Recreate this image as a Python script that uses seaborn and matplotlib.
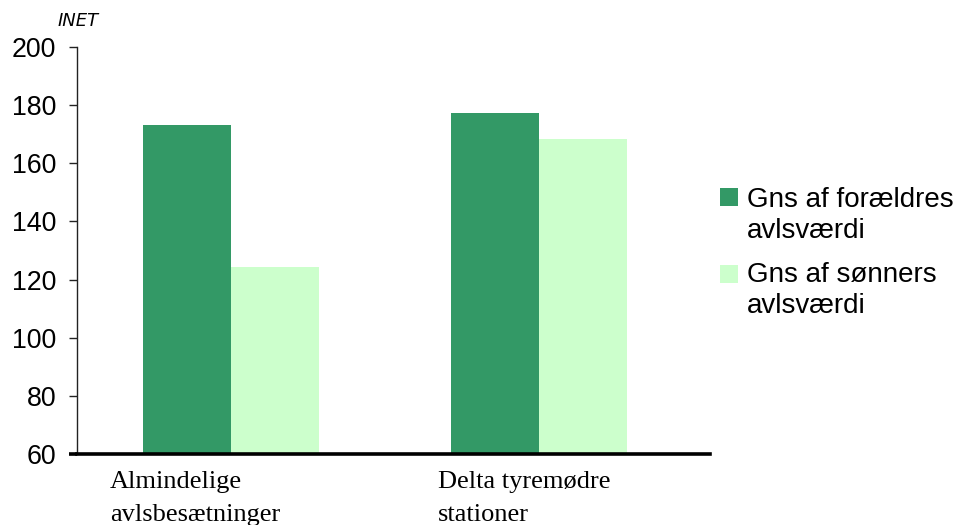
import matplotlib
matplotlib.use("Agg")
import matplotlib.pyplot as plt
from matplotlib.patches import Rectangle
import seaborn as sns
import pandas as pd

# Data: average breeding values (INET) by herd type
categories = ["Almindelige\navlsbesætninger", "Delta tyremødre\nstationer"]
series = ["Gns af forældres\navlsværdi", "Gns af sønners\navlsværdi"]
parents = [173.2, 177.3]
sons = [124.3, 168.4]
colors = ["#339966", "#CCFFCC"]
yticks = [60, 80, 100, 120, 140, 160, 180, 200]

df = pd.DataFrame({
    "kategori": categories * 2,
    "serie": [series[0]] * 2 + [series[1]] * 2,
    "vaerdi": parents + sons,
})

sns.set_theme(style="white")
plt.rcParams["font.family"] = ["Liberation Sans", "DejaVu Sans"]

W, H = 959, 525
fig = plt.figure(figsize=(W / 100, H / 100), dpi=100)
ax = fig.add_axes([77 / W, 1 - 454 / H, 633 / W, 407 / H])

sns.barplot(data=df, x="kategori", y="vaerdi", hue="serie", order=categories,
            hue_order=series, palette=colors, width=0.572, saturation=1,
            edgecolor="none", linewidth=0, legend=False, ax=ax)

ax.set_xlim(-0.5, 1.555)
ax.set_ylim(60, 200)
ax.set_yticks(yticks)
ax.set_yticklabels([str(v) for v in yticks], fontsize=19.3)
ax.set_xticks([])
ax.set_xlabel("")
ax.set_ylabel("")

for s in ["top", "right"]:
    ax.spines[s].set_visible(False)
ax.spines["left"].set_color("#222222")
ax.spines["left"].set_linewidth(1.0)
ax.spines["bottom"].set_color("black")
ax.spines["bottom"].set_linewidth(2.6)
ax.tick_params(axis="y", which="major", left=True, direction="out", length=6,
               width=1.0, color="#222222", pad=9, labelcolor="black")
# short overhang of the category axis to the left of the value axis
ax.plot([-0.525, -0.5], [60, 60], color="black", lw=2.6, clip_on=False,
        solid_capstyle="butt")


def text_lines(x_px, baselines_px, label, **kw):
    """Place each line of a label on its own baseline (pixel coords from top)."""
    for line, yb in zip(label.split("\n"), baselines_px):
        fig.text(x_px / W, 1 - yb / H, line, ha="left", va="baseline", **kw)


# category labels, left aligned below each group
label_x = [110, 438]
for cat, xp in zip(categories, label_x):
    text_lines(xp, [488, 521], cat, fontsize=19, family="Liberation Serif",
               color="black")

# unit label above the value axis
fig.text(78 / W, 1 - 21 / H, "INET", ha="center", va="center",
         fontsize=13, style="italic", family="DejaVu Sans", color="black")

# legend
leg_baselines = [[207, 238], [282, 313]]
leg_patch_top = [188, 265]
for lab, col, bl, pt in zip(series, colors, leg_baselines, leg_patch_top):
    fig.patches.append(Rectangle((720 / W, 1 - (pt + 18) / H), 18 / W, 18 / H,
                                 transform=fig.transFigure, facecolor=col,
                                 edgecolor="none"))
    text_lines(747, bl, lab, fontsize=20, color="black")

fig.savefig("out.png", dpi=100)
